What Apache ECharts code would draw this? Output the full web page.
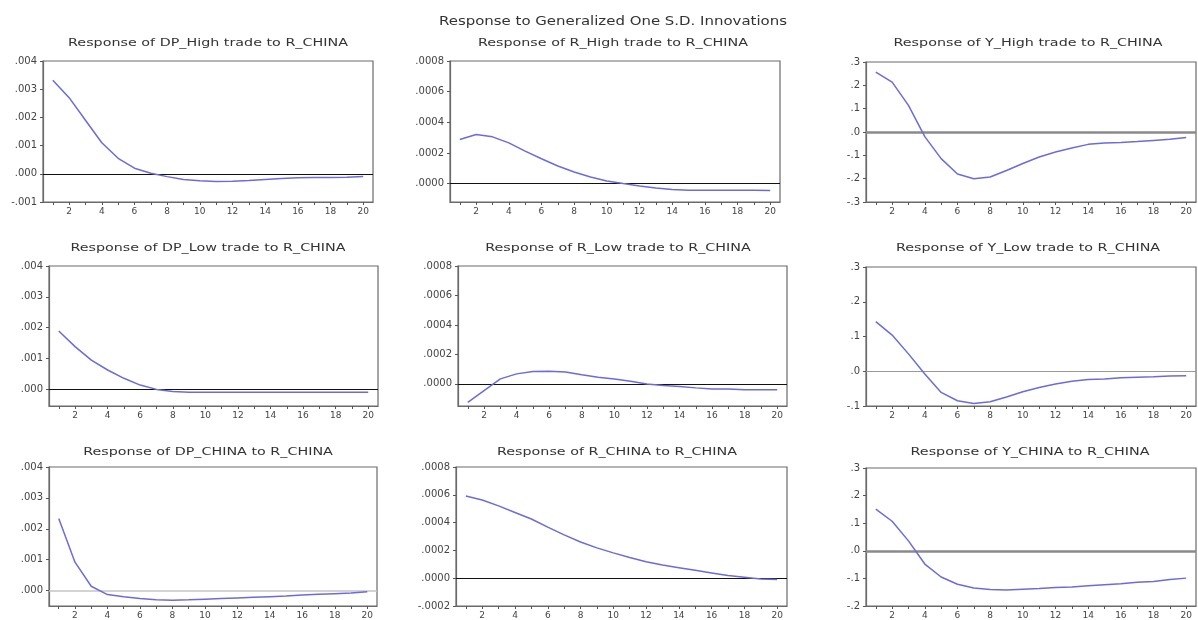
<!DOCTYPE html>
<html>
<head>
<meta charset="utf-8">
<script src="https://cdn.jsdelivr.net/npm/echarts@6.0.0/dist/echarts.min.js"></script>
<style>
  html, body { margin: 0; padding: 0; background: #fff; }
  #chart { width: 1198px; height: 620px; }
</style>
</head>
<body>
<div id="chart"></div>
<script>
// periods 1..20
const periods = [1, 2, 3, 4, 5, 6, 7, 8, 9, 10, 11, 12, 13, 14, 15, 16, 17, 18, 19, 20]
const xTickLabels = [2, 4, 6, 8, 10, 12, 14, 16, 18, 20]

// responses
const dpHighTrade = [0.00332, 0.0027, 0.0019, 0.0011, 0.00055, 0.0002, 0.00002, -0.0001, -0.0002, -0.00025, -0.00027, -0.00026, -0.00024, -0.0002, -0.00017, -0.00014, -0.00013, -0.00013, -0.00012, -0.0001]
const rHighTrade = [0.000288, 0.00032, 0.000305, 0.000266, 0.000212, 0.000162, 0.000115, 0.000076, 0.000043, 0.000017, 0.0, -0.000015, -0.000028, -0.000039, -0.000043, -0.000044, -0.000044, -0.000044, -0.000044, -0.000045]
const yHighTrade = [0.257, 0.214, 0.114, -0.02, -0.114, -0.18, -0.2, -0.193, -0.165, -0.135, -0.107, -0.086, -0.069, -0.053, -0.047, -0.045, -0.041, -0.036, -0.031, -0.024]
const dpLowTrade = [0.00189, 0.00138, 0.00094, 0.00062, 0.00035, 0.00013, -0.00001, -0.00008, -0.0001, -0.0001, -0.0001, -0.0001, -0.0001, -0.0001, -0.0001, -0.0001, -0.0001, -0.0001, -0.0001, -0.0001]
const rLowTrade = [-0.000125, -0.000045, 0.000034, 0.000068, 0.000084, 0.000086, 0.00008, 0.000062, 0.000045, 0.000034, 0.000018, 0.0, -0.000011, -0.000018, -0.000027, -0.000034, -0.000034, -0.00004, -0.00004, -0.00004]
const yLowTrade = [0.143, 0.104, 0.05, -0.008, -0.061, -0.085, -0.093, -0.088, -0.074, -0.059, -0.047, -0.037, -0.029, -0.024, -0.022, -0.019, -0.017, -0.016, -0.014, -0.013]
const dpChina = [0.00233, 0.00092, 0.00014, -0.00013, -0.0002, -0.00026, -0.0003, -0.00031, -0.0003, -0.00028, -0.00026, -0.00024, -0.00022, -0.0002, -0.00018, -0.00014, -0.00012, -0.0001, -0.00008, -0.00004]
const rChina = [0.000592, 0.000563, 0.00052, 0.000473, 0.000426, 0.000367, 0.000312, 0.00026, 0.000218, 0.000182, 0.000149, 0.000118, 0.000095, 0.000076, 0.000057, 0.000038, 0.000019, 0.000007, -0.000005, -0.00001]
const yChina = [0.151, 0.107, 0.036, -0.048, -0.095, -0.121, -0.135, -0.14, -0.142, -0.139, -0.137, -0.133, -0.131, -0.127, -0.123, -0.119, -0.114, -0.111, -0.104, -0.099]

// y tick labels
const yTicksDpTop = [-0.001, 0, 0.001, 0.002, 0.003, 0.004]
const yTicksDp = [0, 0.001, 0.002, 0.003, 0.004]
const yTicksR = [0, 0.0002, 0.0004, 0.0006, 0.0008]
const yTicksRChina = [-0.0002, 0, 0.0002, 0.0004, 0.0006, 0.0008]
const yTicksYTop = [-0.3, -0.2, -0.1, 0, 0.1, 0.2, 0.3]
const yTicksYLow = [-0.1, 0, 0.1, 0.2, 0.3]
const yTicksYChina = [-0.2, -0.1, 0, 0.1, 0.2, 0.3]

const mainTitle = 'Response to Generalized One S.D. Innovations'

const black = { color: '#111', width: 1 }
const grayThick = { color: '#8a8a8a', width: 2.5 }
const grayThin = { color: '#999', width: 1 }
const grayLight = { color: '#c4c4c4', width: 1.5 }

const panels = [
  { title: 'Response of DP_High trade to R_CHINA', data: dpHighTrade, ticks: yTicksDpTop, min: -0.001, max: 0.004, dec: 3,
    grid: { left: 43, top: 61, width: 330, height: 141 }, at: [208, 43], zero: black },
  { title: 'Response of R_High trade to R_CHINA', data: rHighTrade, ticks: yTicksR, min: -0.00012, max: 0.0008, dec: 4,
    grid: { left: 450, top: 61, width: 330, height: 141 }, at: [613, 43], zero: black },
  { title: 'Response of Y_High trade to R_CHINA', data: yHighTrade, ticks: yTicksYTop, min: -0.3, max: 0.3, dec: 1,
    grid: { left: 866, top: 62, width: 330, height: 140 }, at: [1028, 43], zero: grayThick },
  { title: 'Response of DP_Low trade to R_CHINA', data: dpLowTrade, ticks: yTicksDp, min: -0.00055, max: 0.004, dec: 3,
    grid: { left: 49, top: 266, width: 329, height: 140 }, at: [208, 248], zero: black },
  { title: 'Response of R_Low trade to R_CHINA', data: rLowTrade, ticks: yTicksR, min: -0.00015, max: 0.0008, dec: 4,
    grid: { left: 458, top: 266, width: 329, height: 140 }, at: [618, 248], zero: black },
  { title: 'Response of Y_Low trade to R_CHINA', data: yLowTrade, ticks: yTicksYLow, min: -0.1, max: 0.3, dec: 1,
    grid: { left: 866, top: 267, width: 330, height: 139 }, at: [1028, 248], zero: grayThin },
  { title: 'Response of DP_CHINA to R_CHINA', data: dpChina, ticks: yTicksDp, min: -0.0005, max: 0.004, dec: 3,
    grid: { left: 49, top: 467, width: 328, height: 143 }, at: [208, 452], zero: grayLight },
  { title: 'Response of R_CHINA to R_CHINA', data: rChina, ticks: yTicksRChina, min: -0.0002, max: 0.0008, dec: 4,
    grid: { left: 456, top: 467, width: 331, height: 143 }, at: [617, 452], zero: black },
  { title: 'Response of Y_CHINA to R_CHINA', data: yChina, ticks: yTicksYChina, min: -0.2, max: 0.3, dec: 1,
    grid: { left: 866, top: 468, width: 330, height: 142 }, at: [1030, 452], zero: grayThick },
]

const textFont = 'DejaVu Sans'
const frameColor = '#6a6a6a'
// the original text is drawn wide, so titles get a horizontal stretch
const titleStretch = 1.3

// EViews style labels: .004, -.001, .0000
const evLabel = dec => v => Number(v).toFixed(dec).replace(/^(-?)0\./, '$1.')

const chart = echarts.init(document.getElementById('chart'), null, { renderer: 'canvas' })

const option = {
  animation: false,
  backgroundColor: '#fff',
  grid: panels.map(p => ({
    ...p.grid,
    show: true,
    borderColor: frameColor,
    borderWidth: 1.2,
    containLabel: false,
  })),
  xAxis: panels.map((p, i) => ({
    type: 'value',
    gridIndex: i,
    min: 0.4,
    max: 20.6,
    splitLine: { show: false },
    axisLine: { show: true, onZero: false, lineStyle: { color: frameColor, width: 1.2 } },
    axisTick: { show: true, inside: false, length: 3, customValues: periods, lineStyle: { color: '#555' } },
    axisLabel: {
      customValues: xTickLabels,
      fontSize: 9,
      fontFamily: textFont,
      color: '#444',
      margin: 5,
    },
  })),
  yAxis: panels.map((p, i) => ({
    type: 'value',
    gridIndex: i,
    min: p.min,
    max: p.max,
    splitLine: { show: false },
    axisLine: { show: true, lineStyle: { color: frameColor, width: 1.2 } },
    axisTick: { show: true, inside: false, length: 3, customValues: p.ticks, lineStyle: { color: '#555' } },
    axisLabel: {
      customValues: p.ticks,
      formatter: evLabel(p.dec),
      fontSize: 10,
      fontFamily: textFont,
      color: '#444',
      margin: 6,
    },
  })),
  series: panels.map((p, i) => ({
    type: 'line',
    name: p.title,
    xAxisIndex: i,
    yAxisIndex: i,
    data: periods.map((t, j) => [t, p.data[j]]),
    showSymbol: false,
    smooth: false,
    lineStyle: { color: '#6b6be0', width: 1.5 },
    z: 3,
    markLine: {
      silent: true,
      symbol: 'none',
      label: { show: false },
      lineStyle: { type: 'solid', color: p.zero.color, width: p.zero.width },
      data: [{ yAxis: 0 }],
      z: 2,
    },
  })),
  graphic: [
    {
      type: 'text',
      x: 613,
      y: 22,
      scaleX: titleStretch,
      style: {
        text: mainTitle,
        fontSize: 11.5,
        fontFamily: textFont,
        fill: '#333',
        textAlign: 'center',
        textVerticalAlign: 'middle',
      },
    },
    ...panels.map(p => ({
      type: 'text',
      x: p.at[0],
      y: p.at[1],
      scaleX: titleStretch,
      style: {
        text: p.title,
        fontSize: 11,
        fontFamily: textFont,
        fill: '#333',
        textAlign: 'center',
        textVerticalAlign: 'middle',
      },
    })),
  ],
}

chart.setOption(option)
</script>
</body>
</html>
